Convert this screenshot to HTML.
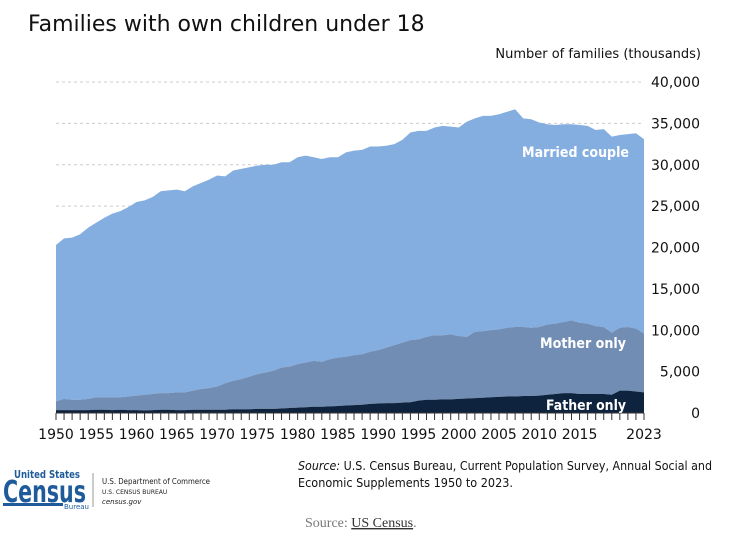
<!DOCTYPE html>
<html><head><meta charset="utf-8"><style>
body{margin:0;background:#fff;width:731px;height:538px;overflow:hidden;font-family:"DejaVu Sans","Liberation Sans",sans-serif}
</style></head><body>
<svg width="731" height="538" xmlns="http://www.w3.org/2000/svg">
<text x="28" y="31" font-size="22" fill="#111">Families with own children under 18</text>
<text x="701" y="58" font-size="13" fill="#111" text-anchor="end">Number of families (thousands)</text>
<g id="grid"></g><g id="areas"></g><g id="axes"></g>
<text x="522" y="157" font-size="14" font-weight="bold" fill="#fff" textLength="107" lengthAdjust="spacingAndGlyphs">Married couple</text>
<text x="540" y="348" font-size="14" font-weight="bold" fill="#fff" textLength="86" lengthAdjust="spacingAndGlyphs">Mother only</text>
<text x="546" y="410" font-size="14" font-weight="bold" fill="#fff" textLength="80" lengthAdjust="spacingAndGlyphs">Father only</text>
<g>
<text x="14" y="478" font-size="11" fill="#1f5a9a" font-weight="bold" textLength="66" lengthAdjust="spacingAndGlyphs">United States</text>
<text x="3" y="502" font-size="30" font-weight="bold" fill="#1f5a9a" textLength="83" lengthAdjust="spacingAndGlyphs">Census</text>
<rect x="3" y="503" width="60" height="3" fill="#1f5a9a"/>
<text x="64" y="509" font-size="7" fill="#1f5a9a">Bureau</text>
<line x1="93" y1="473" x2="93" y2="507" stroke="#999"/>
<text x="102" y="484" font-size="8" fill="#222" textLength="108" lengthAdjust="spacingAndGlyphs">U.S. Department of Commerce</text>
<text x="102" y="494" font-size="6" fill="#222">U.S. CENSUS BUREAU</text>
<text x="102" y="504" font-size="7" font-style="italic" fill="#222">census.gov</text>
</g>
<text x="298" y="470" font-size="12" fill="#111" textLength="414" lengthAdjust="spacingAndGlyphs"><tspan font-style="italic">Source:</tspan> U.S. Census Bureau, Current Population Survey, Annual Social and</text>
<text x="298" y="487" font-size="12" fill="#111" textLength="215" lengthAdjust="spacingAndGlyphs">Economic Supplements 1950 to 2023.</text>
<text x="305" y="527" font-size="14" fill="#777" font-family="Liberation Serif,serif">Source: <tspan fill="#333" text-decoration="underline">US Census</tspan>.</text>
</svg>
<script>
const years=[];for(let y=1950;y<=2023;y++)years.push(y);
const father=[350,350,350,350,350,400,400,350,400,350,350,300,350,400,400,350,350,400,400,400,400,400,450,450,450,500,500,500,550,600,650,700,750,750,800,850,900,950,1000,1100,1150,1200,1200,1250,1300,1500,1600,1600,1650,1650,1700,1750,1800,1850,1900,1950,2000,2000,2050,2050,2100,2200,2300,2400,2400,2300,2300,2300,2300,2200,2700,2700,2600,2500];
const mother=[1050,1350,1250,1250,1350,1500,1500,1550,1500,1650,1750,1900,1950,2000,2000,2150,2150,2300,2500,2600,2800,3200,3450,3650,3950,4200,4400,4600,4950,5000,5250,5400,5550,5450,5700,5850,5900,6050,6100,6300,6450,6700,7000,7250,7500,7400,7600,7800,7750,7850,7600,7450,8000,8050,8100,8150,8300,8400,8350,8250,8300,8500,8500,8600,8800,8600,8500,8200,8100,7500,7600,7700,7600,7100];
const married=[18900,19400,19600,20000,20700,21100,21700,22200,22500,22900,23400,23500,23800,24400,24500,24500,24300,24700,24900,25200,25500,25000,25400,25400,25300,25200,25100,24900,24800,24700,25000,25000,24600,24500,24400,24200,24700,24700,24700,24800,24600,24400,24300,24500,25100,25200,24900,25100,25300,25100,25200,26000,25800,26000,25900,26000,26100,26300,25200,25200,24700,24200,24000,23900,23700,23900,23900,23700,23900,23700,23300,23300,23600,23500];
const yTicks=[0,5000,10000,15000,20000,25000,30000,35000,40000];
const xLabels=[1950,1955,1960,1965,1970,1975,1980,1985,1990,1995,2000,2005,2010,2015,2023];
const NS="http://www.w3.org/2000/svg";
const X=y=>56+(y-1950)*(588/73), Y=v=>413-v*331/40000;
function mk(t,a,p){const e=document.createElementNS(NS,t);for(const k in a)e.setAttribute(k,a[k]);p.appendChild(e);return e;}
const grid=document.getElementById('grid'),areas=document.getElementById('areas'),axes=document.getElementById('axes');
yTicks.forEach(v=>{
 if(v>0){const l=mk('line',{x1:56,x2:644,y1:Y(v),y2:Y(v),stroke:'#ccc','stroke-dasharray':'3,3'},grid);
 
 }
 const t=mk('text',{x:700,y:Y(v)+5,'font-size':14,fill:'#111','text-anchor':'end'},axes);
 t.textContent=v.toLocaleString('en-US');
 
 
});
let cum=years.map(()=>0);
const layers=[father,mother,married].map(s=>{const lo=cum.slice();cum=cum.map((c,i)=>c+s[i]);return [lo,cum.slice()];});
const names=['father-only-area','mother-only-area','married-couple-area'],cols=['#0e233e','#728db3','#84ade0'];
for(let k=2;k>=0;k--){
 const [lo,hi]=layers[k];
 let d='M'+years.map((y,i)=>X(y)+','+Y(hi[i])).join('L');
 for(let i=years.length-1;i>=0;i--)d+='L'+X(years[i])+','+Y(lo[i]);
 const p=mk('path',{d:d+'Z',fill:cols[k]},areas);
 
 
}
mk('line',{x1:56,x2:644,y1:413,y2:413,stroke:'#333'},axes);
years.forEach(y=>{const l=mk('line',{x1:X(y),x2:X(y),y1:413,y2:420,stroke:'#333'},axes);
 
 });
xLabels.forEach(y=>{const t=mk('text',{x:X(y),y:439,'font-size':14,fill:'#111','text-anchor':'middle'},axes);
 t.textContent=y;
 
 });
</script>
</body></html>
